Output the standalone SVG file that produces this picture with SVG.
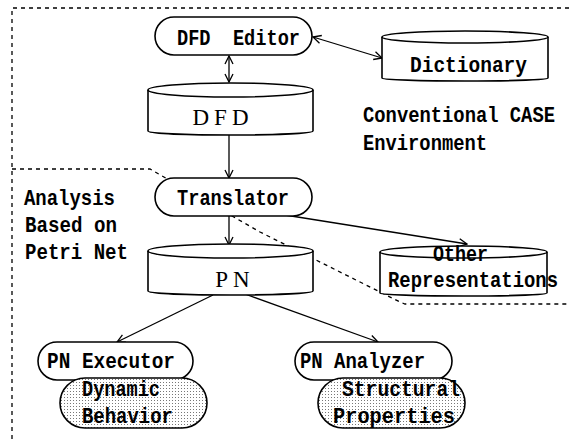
<svg xmlns="http://www.w3.org/2000/svg" width="570" height="439" viewBox="0 0 570 439">
<style>
.sh{fill:#fff;stroke:#000;stroke-width:1.6}
.dot{fill:url(#dots);stroke:#000;stroke-width:1.6}
.t{font-family:"Liberation Mono","DejaVu Sans Mono",monospace;font-size:22px;font-weight:bold;fill:#000;white-space:pre}
.big{font-family:"Liberation Serif","DejaVu Serif",serif;font-size:23px;fill:#000}
.ln{stroke:#000;stroke-width:1.3;fill:none}
.bd{stroke:#000;stroke-width:1.3;fill:none;stroke-dasharray:4 4}
</style>
<defs>
<marker id="ah" markerWidth="10" markerHeight="10" refX="9" refY="5" orient="auto-start-reverse" markerUnits="userSpaceOnUse">
<path d="M1,1 L9,5 L1,9" fill="none" stroke="#000" stroke-width="1.3"/>
</marker>
<pattern id="dots" width="3" height="3" patternUnits="userSpaceOnUse">
<rect width="3" height="3" fill="#fff"/>
<rect x="1" y="1" width="1" height="1" fill="#777"/>
</pattern>
</defs>
<g id="boundaries">
<path class="bd" d="M12,439 V8 H570"/>
<path class="bd" d="M12,169 H150 L260,232 L400,302 L405,304 H570"/>
</g>
<g id="connectors">
<line class="ln" x1="229" y1="56" x2="229" y2="82" marker-start="url(#ah)" marker-end="url(#ah)"/>
<line class="ln" x1="313" y1="37" x2="382" y2="58" marker-start="url(#ah)" marker-end="url(#ah)"/>
<line class="ln" x1="229" y1="134" x2="229" y2="178" marker-end="url(#ah)"/>
<line class="ln" x1="229" y1="216" x2="229" y2="245" marker-end="url(#ah)"/>
<line class="ln" x1="285" y1="215" x2="467" y2="244" marker-end="url(#ah)"/>
<line class="ln" x1="213" y1="295" x2="117" y2="342" marker-end="url(#ah)"/>
<line class="ln" x1="245" y1="294" x2="378" y2="342" marker-end="url(#ah)"/>
</g>
<g id="dfd-editor">
<rect class="sh" x="155" y="17" width="157" height="38" rx="19"/>
<text class="t" x="177" y="45" textLength="123" lengthAdjust="spacingAndGlyphs">DFD  Editor</text>
</g>
<g id="dictionary">
<path class="sh" d="M382,37 V78 A83,3 0 0 0 548,78 V37"/>
<ellipse class="sh" cx="465" cy="37" rx="83" ry="6"/>
<text class="t" x="410" y="72" textLength="117" lengthAdjust="spacingAndGlyphs">Dictionary</text>
</g>
<g id="dfd">
<path class="sh" d="M148,90 V131 A82.5,4 0 0 0 313,131 V90"/>
<ellipse class="sh" cx="230.5" cy="90" rx="82.5" ry="7"/>
<text class="big" x="223" y="125" text-anchor="middle" letter-spacing="5">DFD</text>
</g>
<g id="case-label">
<text class="t" x="363" y="122" textLength="192" lengthAdjust="spacingAndGlyphs">Conventional CASE</text>
<text class="t" x="363" y="150" textLength="124" lengthAdjust="spacingAndGlyphs">Environment</text>
</g>
<g id="translator">
<rect class="sh" x="155" y="178" width="157" height="38" rx="19"/>
<text class="t" x="177" y="205" textLength="112" lengthAdjust="spacingAndGlyphs">Translator</text>
</g>
<g id="petri-label">
<text class="t" x="24" y="205" textLength="91" lengthAdjust="spacingAndGlyphs">Analysis</text>
<text class="t" x="25" y="232" textLength="92" lengthAdjust="spacingAndGlyphs">Based on</text>
<text class="t" x="25" y="259" textLength="103" lengthAdjust="spacingAndGlyphs">Petri Net</text>
</g>
<g id="pn">
<path class="sh" d="M148,251 V291 A82.5,4 0 0 0 313,291 V251"/>
<ellipse class="sh" cx="230.5" cy="251" rx="82.5" ry="7"/>
<text class="big" x="235" y="287" text-anchor="middle" letter-spacing="5">PN</text>
</g>
<g id="other-representations">
<path class="sh" d="M380,252 V293 A83.5,3 0 0 0 547,293 V252"/>
<ellipse class="sh" cx="463.5" cy="252" rx="83.5" ry="6"/>
<text class="t" x="433" y="261" textLength="55" lengthAdjust="spacingAndGlyphs">Other</text>
<text class="t" x="388" y="287" textLength="170" lengthAdjust="spacingAndGlyphs">Representations</text>
</g>
<g id="pn-executor">
<rect class="sh" x="38" y="342" width="155" height="38" rx="19"/>
<text class="t" x="47" y="368" textLength="128" lengthAdjust="spacingAndGlyphs">PN Executor</text>
</g>
<g id="dynamic-behavior">
<rect class="dot" x="60" y="378" width="147" height="50" rx="25"/>
<text class="t" x="82" y="396" textLength="78" lengthAdjust="spacingAndGlyphs">Dynamic</text>
<text class="t" x="82" y="423" textLength="91" lengthAdjust="spacingAndGlyphs">Behavior</text>
</g>
<g id="pn-analyzer">
<rect class="sh" x="295" y="342" width="157" height="38" rx="19"/>
<text class="t" x="300" y="368" textLength="125" lengthAdjust="spacingAndGlyphs">PN Analyzer</text>
</g>
<g id="structural-properties">
<rect class="dot" x="318" y="378" width="147" height="50" rx="25"/>
<text class="t" x="342" y="396" textLength="118" lengthAdjust="spacingAndGlyphs">Structural</text>
<text class="t" x="333" y="423" textLength="122" lengthAdjust="spacingAndGlyphs">Properties</text>
</g>
</svg>
